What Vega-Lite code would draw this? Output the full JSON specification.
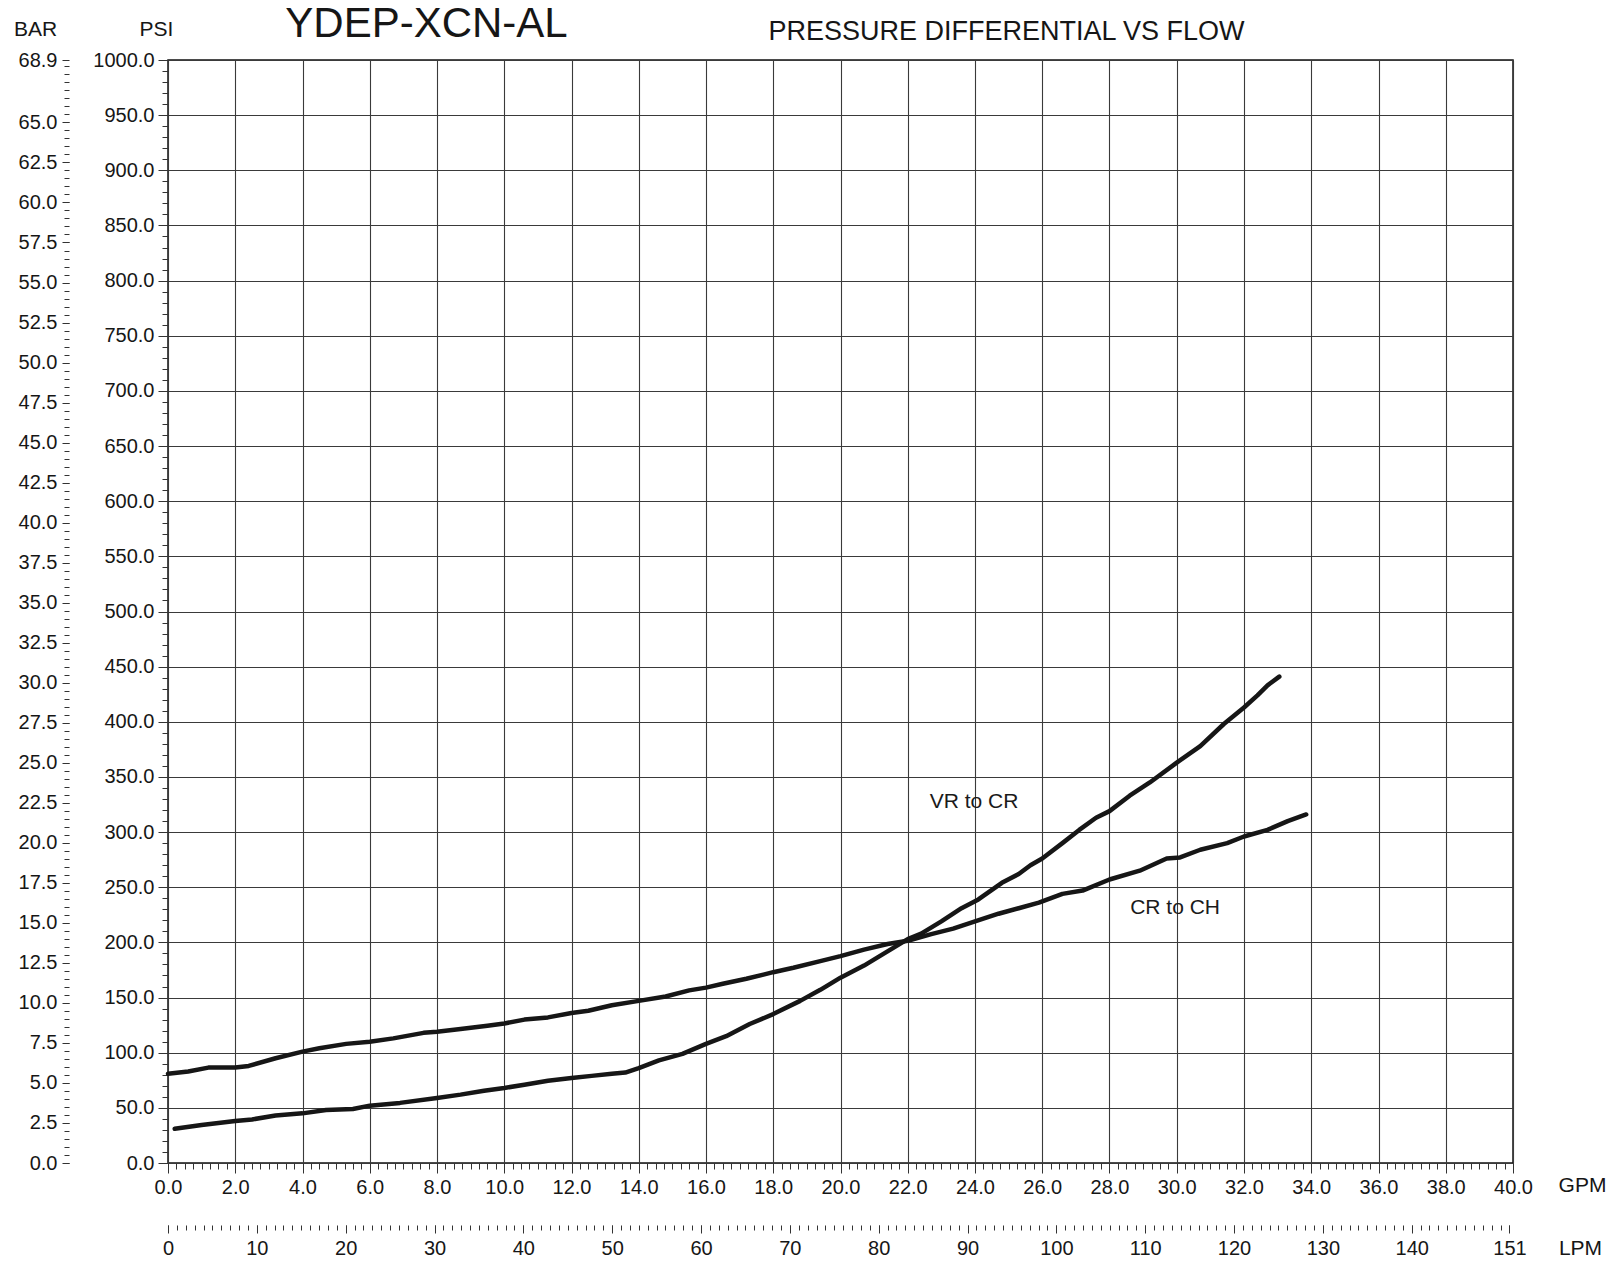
{
  "$schema": "https://vega.github.io/schema/vega-lite/v6.json",
  "width": 1345,
  "height": 1103,
  "autosize": {"type": "none"},
  "padding": {"left": 168, "top": 60, "right": 105, "bottom": 99},
  "background": "white",
  "config": {
    "view": {"stroke": "#111", "strokeWidth": 1.5},
    "axis": {
      "labelFont": "Liberation Sans",
      "titleFont": "Liberation Sans",
      "labelFontSize": 20,
      "labelColor": "#161616",
      "tickColor": "#333",
      "tickWidth": 1,
      "domain": false,
      "grid": false,
      "labelFlush": false,
      "labelOverlap": false,
      "titleFontWeight": "normal",
      "titleColor": "#161616",
      "titleFontSize": 21,
      "titleAngle": 0,
      "titleAlign": "center",
      "titleBaseline": "alphabetic"
    }
  },
  "datasets": {
    "curves": [
      {"series": "VR to CR", "gpm": 0.2, "psi": 31},
      {"series": "VR to CR", "gpm": 1.0, "psi": 34.5},
      {"series": "VR to CR", "gpm": 2.0, "psi": 38},
      {"series": "VR to CR", "gpm": 2.5, "psi": 39.5},
      {"series": "VR to CR", "gpm": 3.2, "psi": 43},
      {"series": "VR to CR", "gpm": 4.0, "psi": 45},
      {"series": "VR to CR", "gpm": 4.7, "psi": 48},
      {"series": "VR to CR", "gpm": 5.5, "psi": 49},
      {"series": "VR to CR", "gpm": 6.0, "psi": 52},
      {"series": "VR to CR", "gpm": 6.9, "psi": 54.5},
      {"series": "VR to CR", "gpm": 8.0, "psi": 59},
      {"series": "VR to CR", "gpm": 8.7, "psi": 62},
      {"series": "VR to CR", "gpm": 9.4, "psi": 65.5},
      {"series": "VR to CR", "gpm": 10.0, "psi": 68},
      {"series": "VR to CR", "gpm": 10.6, "psi": 71},
      {"series": "VR to CR", "gpm": 11.3, "psi": 74.5},
      {"series": "VR to CR", "gpm": 12.0, "psi": 77},
      {"series": "VR to CR", "gpm": 12.6, "psi": 79},
      {"series": "VR to CR", "gpm": 13.2, "psi": 81},
      {"series": "VR to CR", "gpm": 13.6, "psi": 82},
      {"series": "VR to CR", "gpm": 14.0, "psi": 86},
      {"series": "VR to CR", "gpm": 14.6, "psi": 93},
      {"series": "VR to CR", "gpm": 15.3, "psi": 99},
      {"series": "VR to CR", "gpm": 16.0, "psi": 108},
      {"series": "VR to CR", "gpm": 16.6, "psi": 115},
      {"series": "VR to CR", "gpm": 17.3, "psi": 126},
      {"series": "VR to CR", "gpm": 18.0, "psi": 135},
      {"series": "VR to CR", "gpm": 18.8, "psi": 147},
      {"series": "VR to CR", "gpm": 19.4, "psi": 157},
      {"series": "VR to CR", "gpm": 20.0, "psi": 168},
      {"series": "VR to CR", "gpm": 20.7, "psi": 179},
      {"series": "VR to CR", "gpm": 21.3, "psi": 190},
      {"series": "VR to CR", "gpm": 22.0, "psi": 203},
      {"series": "VR to CR", "gpm": 22.4, "psi": 208},
      {"series": "VR to CR", "gpm": 23.0, "psi": 219},
      {"series": "VR to CR", "gpm": 23.6, "psi": 231},
      {"series": "VR to CR", "gpm": 24.1, "psi": 239},
      {"series": "VR to CR", "gpm": 24.8, "psi": 254},
      {"series": "VR to CR", "gpm": 25.3, "psi": 262},
      {"series": "VR to CR", "gpm": 25.65, "psi": 270},
      {"series": "VR to CR", "gpm": 26.0, "psi": 276},
      {"series": "VR to CR", "gpm": 26.6, "psi": 290},
      {"series": "VR to CR", "gpm": 27.1, "psi": 302},
      {"series": "VR to CR", "gpm": 27.6, "psi": 313},
      {"series": "VR to CR", "gpm": 28.0, "psi": 319},
      {"series": "VR to CR", "gpm": 28.6, "psi": 333},
      {"series": "VR to CR", "gpm": 29.2, "psi": 345},
      {"series": "VR to CR", "gpm": 30.0, "psi": 363},
      {"series": "VR to CR", "gpm": 30.7, "psi": 378},
      {"series": "VR to CR", "gpm": 31.4, "psi": 398},
      {"series": "VR to CR", "gpm": 32.0, "psi": 413},
      {"series": "VR to CR", "gpm": 32.4, "psi": 424},
      {"series": "VR to CR", "gpm": 32.7, "psi": 433},
      {"series": "VR to CR", "gpm": 33.05, "psi": 441},
      {"series": "CR to CH", "gpm": 0.0, "psi": 81},
      {"series": "CR to CH", "gpm": 0.6, "psi": 83},
      {"series": "CR to CH", "gpm": 1.2, "psi": 86.5},
      {"series": "CR to CH", "gpm": 2.0, "psi": 86.5},
      {"series": "CR to CH", "gpm": 2.4, "psi": 88},
      {"series": "CR to CH", "gpm": 3.2, "psi": 95},
      {"series": "CR to CH", "gpm": 4.0, "psi": 101},
      {"series": "CR to CH", "gpm": 4.5, "psi": 104},
      {"series": "CR to CH", "gpm": 5.3, "psi": 108},
      {"series": "CR to CH", "gpm": 6.0, "psi": 110},
      {"series": "CR to CH", "gpm": 6.7, "psi": 113},
      {"series": "CR to CH", "gpm": 7.6, "psi": 118},
      {"series": "CR to CH", "gpm": 8.0, "psi": 119},
      {"series": "CR to CH", "gpm": 8.7, "psi": 121.5},
      {"series": "CR to CH", "gpm": 9.5, "psi": 124.5},
      {"series": "CR to CH", "gpm": 10.0, "psi": 126.5},
      {"series": "CR to CH", "gpm": 10.6, "psi": 130},
      {"series": "CR to CH", "gpm": 11.3, "psi": 132},
      {"series": "CR to CH", "gpm": 12.0, "psi": 136},
      {"series": "CR to CH", "gpm": 12.5, "psi": 138},
      {"series": "CR to CH", "gpm": 13.2, "psi": 143},
      {"series": "CR to CH", "gpm": 14.0, "psi": 147},
      {"series": "CR to CH", "gpm": 14.8, "psi": 151},
      {"series": "CR to CH", "gpm": 15.5, "psi": 156.5},
      {"series": "CR to CH", "gpm": 16.0, "psi": 159},
      {"series": "CR to CH", "gpm": 16.5, "psi": 162.5},
      {"series": "CR to CH", "gpm": 17.2, "psi": 167},
      {"series": "CR to CH", "gpm": 18.0, "psi": 173},
      {"series": "CR to CH", "gpm": 18.6, "psi": 177},
      {"series": "CR to CH", "gpm": 19.4, "psi": 183},
      {"series": "CR to CH", "gpm": 20.0, "psi": 187.5},
      {"series": "CR to CH", "gpm": 20.7, "psi": 193.5},
      {"series": "CR to CH", "gpm": 21.4, "psi": 198.5},
      {"series": "CR to CH", "gpm": 22.0, "psi": 201.5},
      {"series": "CR to CH", "gpm": 22.7, "psi": 207.5},
      {"series": "CR to CH", "gpm": 23.35, "psi": 212.5},
      {"series": "CR to CH", "gpm": 24.0, "psi": 219},
      {"series": "CR to CH", "gpm": 24.7, "psi": 226},
      {"series": "CR to CH", "gpm": 25.3, "psi": 231},
      {"series": "CR to CH", "gpm": 25.9, "psi": 236},
      {"series": "CR to CH", "gpm": 26.6, "psi": 244},
      {"series": "CR to CH", "gpm": 27.2, "psi": 247},
      {"series": "CR to CH", "gpm": 28.0, "psi": 257},
      {"series": "CR to CH", "gpm": 28.9, "psi": 265},
      {"series": "CR to CH", "gpm": 29.7, "psi": 276},
      {"series": "CR to CH", "gpm": 30.1, "psi": 277},
      {"series": "CR to CH", "gpm": 30.7, "psi": 284},
      {"series": "CR to CH", "gpm": 31.5, "psi": 290},
      {"series": "CR to CH", "gpm": 32.0, "psi": 296},
      {"series": "CR to CH", "gpm": 32.7, "psi": 302},
      {"series": "CR to CH", "gpm": 33.3, "psi": 310},
      {"series": "CR to CH", "gpm": 33.85, "psi": 316}
    ],
    "labels": [
      {"label": "VR to CR", "gpm": 23.97, "psi": 327},
      {"label": "CR to CH", "gpm": 29.95, "psi": 231}
    ],
    "barRange": [{"bar": 0}, {"bar": 68.9}],
    "lpmRange": [{"lpm": 0}, {"lpm": 151.4}]
  },
  "resolve": {
    "scale": {"x": "independent", "y": "independent"},
    "axis": {"x": "independent", "y": "independent"}
  },
  "layer": [
    {
      "data": {"name": "curves"},
      "mark": {"type": "line", "color": "#161616", "strokeWidth": 4.5, "strokeCap": "round", "strokeJoin": "round"},
      "encoding": {
        "x": {
          "field": "gpm", "type": "quantitative",
          "scale": {"domain": [0, 40], "nice": false, "zero": true},
          "axis": {
            "orient": "bottom",
            "values": [0,2,4,6,8,10,12,14,16,18,20,22,24,26,28,30,32,34,36,38,40],
            "format": ".1f",
            "grid": true, "gridColor": "#3a3a3a", "gridWidth": 1.1, "gridOpacity": 1,
            "tickSize": 10, "labelPadding": 4,
            "title": "GPM", "titleX": 1414, "titleY": 28
          }
        },
        "y": {
          "field": "psi", "type": "quantitative",
          "scale": {"domain": [0, 1000], "nice": false, "zero": true},
          "axis": {
            "orient": "left",
            "values": [0,50,100,150,200,250,300,350,400,450,500,550,600,650,700,750,800,850,900,950,1000],
            "format": ".1f",
            "grid": true, "gridColor": "#3a3a3a", "gridWidth": 1.1, "gridOpacity": 1,
            "tickSize": 10, "labelPadding": 4,
            "title": "PSI", "titleX": -12, "titleY": -25
          }
        },
        "detail": {"field": "series", "type": "nominal"}
      }
    },
    {
      "data": {"name": "labels"},
      "mark": {"type": "text", "font": "Liberation Sans", "fontSize": 21, "color": "#1a1a1a", "align": "center", "baseline": "middle"},
      "encoding": {
        "x": {"field": "gpm", "type": "quantitative", "scale": {"domain": [0, 40], "nice": false, "zero": true}, "axis": null},
        "y": {"field": "psi", "type": "quantitative", "scale": {"domain": [0, 1000], "nice": false, "zero": true}, "axis": null},
        "text": {"field": "label", "type": "nominal"}
      }
    },
    {
      "data": {"name": "curves"},
      "mark": {"type": "point", "opacity": 0},
      "encoding": {
        "x": {
          "field": "gpm", "type": "quantitative",
          "scale": {"domain": [0, 40], "nice": false, "zero": true},
          "axis": {
            "orient": "bottom",
            "values": [0,0.25,0.5,0.75,1,1.25,1.5,1.75,2,2.25,2.5,2.75,3,3.25,3.5,3.75,4,4.25,4.5,4.75,5,5.25,5.5,5.75,6,6.25,6.5,6.75,7,7.25,7.5,7.75,8,8.25,8.5,8.75,9,9.25,9.5,9.75,10,10.25,10.5,10.75,11,11.25,11.5,11.75,12,12.25,12.5,12.75,13,13.25,13.5,13.75,14,14.25,14.5,14.75,15,15.25,15.5,15.75,16,16.25,16.5,16.75,17,17.25,17.5,17.75,18,18.25,18.5,18.75,19,19.25,19.5,19.75,20,20.25,20.5,20.75,21,21.25,21.5,21.75,22,22.25,22.5,22.75,23,23.25,23.5,23.75,24,24.25,24.5,24.75,25,25.25,25.5,25.75,26,26.25,26.5,26.75,27,27.25,27.5,27.75,28,28.25,28.5,28.75,29,29.25,29.5,29.75,30,30.25,30.5,30.75,31,31.25,31.5,31.75,32,32.25,32.5,32.75,33,33.25,33.5,33.75,34,34.25,34.5,34.75,35,35.25,35.5,35.75,36,36.25,36.5,36.75,37,37.25,37.5,37.75,38,38.25,38.5,38.75,39,39.25,39.5,39.75,40],
            "labels": false, "tickSize": 6, "title": null
          }
        },
        "y": {
          "field": "psi", "type": "quantitative",
          "scale": {"domain": [0, 1000], "nice": false, "zero": true},
          "axis": {
            "orient": "left",
            "tickCount": 100,
            "labels": false, "tickSize": 6,
            "title": "PRESSURE DIFFERENTIAL VS FLOW", "titleFontSize": 27, "titleX": 838, "titleY": -21
          }
        }
      }
    },
    {
      "data": {"name": "barRange"},
      "mark": {"type": "point", "opacity": 0},
      "encoding": {
        "y": {
          "field": "bar", "type": "quantitative",
          "scale": {"domain": [0, 68.9], "nice": false, "zero": true},
          "axis": {
            "orient": "left", "offset": 99,
            "values": [0,2.5,5,7.5,10,12.5,15,17.5,20,22.5,25,27.5,30,32.5,35,37.5,40,42.5,45,47.5,50,52.5,55,57.5,60,62.5,65,68.9],
            "format": ".1f",
            "tickSize": 7, "labelPadding": 5,
            "title": "BAR", "titleX": -34, "titleY": -25
          }
        }
      }
    },
    {
      "data": {"name": "barRange"},
      "mark": {"type": "point", "opacity": 0},
      "encoding": {
        "y": {
          "field": "bar", "type": "quantitative",
          "scale": {"domain": [0, 68.9], "nice": false, "zero": true},
          "axis": {
            "orient": "left", "offset": 99,
            "tickCount": 138,
            "labels": false, "tickSize": 5,
            "title": "YDEP-XCN-AL", "titleFontSize": 42, "titleX": 357, "titleY": -24
          }
        }
      }
    },
    {
      "data": {"name": "lpmRange"},
      "mark": {"type": "point", "opacity": 0},
      "encoding": {
        "x": {
          "field": "lpm", "type": "quantitative",
          "scale": {"domain": [0, 151.4], "nice": false, "zero": true},
          "axis": {
            "orient": "bottom", "offset": 62,
            "values": [0,10,20,30,40,50,60,70,80,90,100,110,120,130,140,151],
            "format": ".0f",
            "tickSize": 8, "labelPadding": 5,
            "title": "LPM", "titleX": 1412, "titleY": 29
          }
        }
      }
    },
    {
      "data": {"name": "lpmRange"},
      "mark": {"type": "point", "opacity": 0},
      "encoding": {
        "x": {
          "field": "lpm", "type": "quantitative",
          "scale": {"domain": [0, 151.4], "nice": false, "zero": true},
          "axis": {
            "orient": "bottom", "offset": 62,
            "tickCount": 151,
            "labels": false, "tickSize": 5, "title": null
          }
        }
      }
    }
  ]
}
